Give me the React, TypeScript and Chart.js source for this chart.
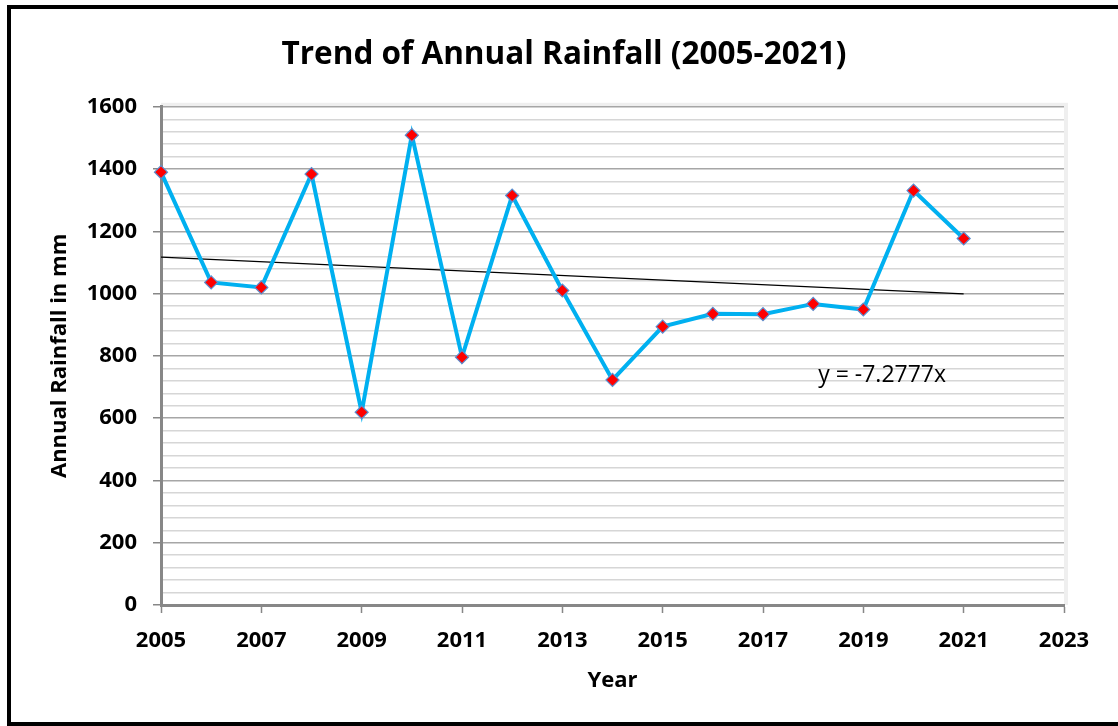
import React, { useEffect, useRef } from "react";
import { Chart, registerables } from "chart.js";

Chart.register(...registerables);

const years = [2005, 2006, 2007, 2008, 2009, 2010, 2011, 2012, 2013, 2014, 2015, 2016, 2017, 2018, 2019, 2020, 2021];
const rainfall = [1390, 1036, 1020, 1384, 619, 1509, 796, 1315, 1010, 723, 894, 935, 934, 967, 949, 1331, 1177];
const titleText = "Trend of Annual Rainfall (2005-2021)";
const xTitle = "Year";
const yTitle = "Annual Rainfall in mm";
const trendLabel = "y = -7.2777x";
const xMin = 2005;
const xMax = 2023;
const yMin = 0;
const yMax = 1600;

function linearFit(xs: number[], ys: number[]) {
  const n = xs.length;
  const mx = xs.reduce((a, b) => a + b, 0) / n;
  const my = ys.reduce((a, b) => a + b, 0) / n;
  let num = 0;
  let den = 0;
  for (let i = 0; i < n; i++) {
    num += (xs[i] - mx) * (ys[i] - my);
    den += (xs[i] - mx) * (xs[i] - mx);
  }
  const slope = num / den;
  return { slope, intercept: my - slope * mx };
}

const FONT = "'Open Sans', 'Noto Sans', sans-serif";

export default function App() {
  const canvasRef = useRef<HTMLCanvasElement | null>(null);

  useEffect(() => {
    const canvas = canvasRef.current;
    if (!canvas) return;
    const fit = linearFit(years, rainfall);
    const trendYears = [years[0], years[years.length - 1]];
    const trendData = trendYears.map((x) => ({ x, y: fit.slope * x + fit.intercept }));

    const framePlugin = {
      id: "frame",
      beforeDraw(chart: any) {
        const { ctx, chartArea } = chart;
        ctx.save();
        ctx.fillStyle = "#ffffff";
        ctx.fillRect(0, 0, chart.width, chart.height);
        ctx.fillStyle = "#efefef";
        ctx.fillRect(chartArea.left, chartArea.top - 4, chartArea.right - chartArea.left + 4, chartArea.bottom - chartArea.top + 4);
        ctx.fillStyle = "#ffffff";
        ctx.fillRect(chartArea.left, chartArea.top, chartArea.right - chartArea.left, chartArea.bottom - chartArea.top);
        ctx.restore();
      },
    };

    const labelPlugin = {
      id: "trendLabel",
      afterDatasetsDraw(chart: any) {
        const { ctx, scales } = chart;
        const x = scales.x.getPixelForValue(2018.1);
        const y = scales.y.getPixelForValue(736);
        ctx.save();
        ctx.font = `23px ${FONT}`;
        ctx.fillStyle = "#000000";
        ctx.textAlign = "left";
        ctx.textBaseline = "middle";
        ctx.fillText(trendLabel, x, y);
        ctx.restore();
      },
    };

    const chart = new Chart(canvas, {
      type: "line",
      data: {
        datasets: [
          {
            label: "Trend",
            data: trendData,
            borderColor: "#000000",
            borderWidth: 1.2,
            pointRadius: 0,
            fill: false,
            clip: false as any,
            order: 2,
          },
          {
            label: "Rainfall",
            data: years.map((x, i) => ({ x, y: rainfall[i] })),
            borderColor: "#00b0f0",
            borderWidth: 4,
            pointStyle: "rectRot",
            pointRadius: 6.5,
            pointBackgroundColor: "#ff0000",
            pointBorderColor: "#5b8fd0",
            pointBorderWidth: 1.2,
            tension: 0,
            fill: false,
            clip: false as any,
            order: 1,
          },
        ],
      },
      options: {
        animation: false,
        responsive: false,
        maintainAspectRatio: false,
        layout: { padding: { left: 10, right: 0, top: 0, bottom: 0 } },
        plugins: {
          legend: { display: false },
          tooltip: { enabled: false },
          title: {
            display: true,
            text: titleText,
            color: "#000000",
            font: { family: FONT, size: 31.5, weight: "bold", lineHeight: 1.2 },
            padding: { top: 36, bottom: 33 },
          },
        },
        scales: {
          x: {
            type: "linear",
            min: xMin,
            max: xMax,
            afterFit(scale: any) {
              scale.height = 121;
            },
            border: { display: true, color: "#878787", width: 3 },
            grid: {
              drawOnChartArea: false,
              drawTicks: true,
              tickLength: 8,
              tickColor: "#878787",
              tickWidth: 1.5,
            },
            ticks: {
              stepSize: 2,
              autoSkip: false,
              maxRotation: 0,
              padding: 15,
              color: "#000000",
              font: { family: FONT, size: 22, weight: "bold" },
              callback: (v: any) => String(v),
            },
            title: {
              display: true,
              text: xTitle,
              color: "#000000",
              font: { family: FONT, size: 22, weight: "bold", lineHeight: 1.2 },
              padding: { top: 0, bottom: 32 },
            },
          },
          y: {
            type: "linear",
            position: "left",
            min: yMin,
            max: yMax,
            afterFit(scale: any) {
              scale.width = 151;
            },
            border: { display: true, color: "#878787", width: 3 },
            grid: {
              drawTicks: true,
              tickLength: 8,
              color: (c: any) => (c.tick && c.tick.value % 200 === 0 ? "#a6a6a6" : "#d6d6d6"),
              lineWidth: 1.5,
              tickColor: (c: any) => (c.tick && c.tick.value % 200 === 0 ? "#878787" : "rgba(0,0,0,0)"),
              tickWidth: 1.5,
            },
            ticks: {
              stepSize: 40,
              autoSkip: false,
              padding: 16,
              color: "#000000",
              font: { family: FONT, size: 22, weight: "bold" },
              callback: (v: any) => (v % 200 === 0 ? String(v) : ""),
            },
            title: {
              display: true,
              text: yTitle,
              color: "#000000",
              font: { family: FONT, size: 22, weight: "bold", lineHeight: 1.2 },
              padding: { top: 37, bottom: 0 },
            },
          },
          yRight: {
            type: "linear",
            position: "right",
            min: yMin,
            max: yMax,
            afterFit(scale: any) {
              scale.width = 54;
            },
            border: { display: false },
            grid: { drawOnChartArea: false, drawTicks: false },
            ticks: { display: false },
          },
        },
      },
      plugins: [framePlugin, labelPlugin],
    });
    return () => chart.destroy();
  }, []);

  return (
    <div style={{ position: "fixed", left: 0, top: 0, width: 1118, height: 726, overflow: "hidden", background: "#fff" }}>
      <canvas ref={canvasRef} width={1118} height={726} style={{ display: "block", width: 1118, height: 726 }} />
      <div
        style={{
          position: "absolute",
          left: 7,
          top: 5,
          width: 1200,
          height: 721,
          border: "4px solid #000",
          boxSizing: "border-box",
          pointerEvents: "none",
        }}
      />
    </div>
  );
}
